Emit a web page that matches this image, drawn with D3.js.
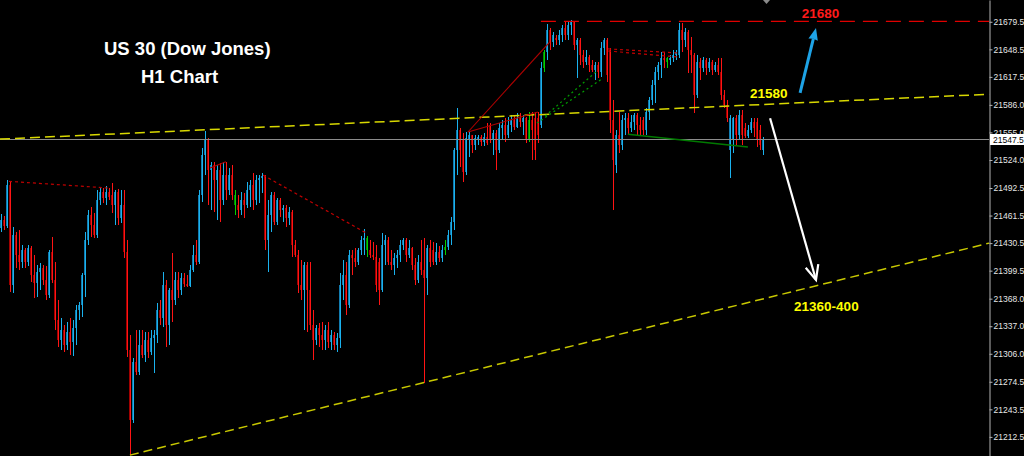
<!DOCTYPE html>
<html>
<head>
<meta charset="utf-8">
<script src="https://cdn.jsdelivr.net/npm/d3@7"></script>
<style>
  html, body { margin: 0; padding: 0; background: #000; }
  svg { display: block; }
</style>
</head>
<body>
<svg id="chart" width="1024" height="456"></svg>
<script>
// H1 candles, one per hour, oldest first
const opens = [
  21448, 21457, 21450, 21496, 21383, 21440, 21417, 21409, 21423, 21409,
  21425, 21395, 21386, 21398, 21402, 21389, 21372, 21421, 21389, 21344,
  21322, 21333, 21316, 21331, 21319, 21335, 21355, 21361, 21395, 21434,
  21462, 21451, 21440, 21479, 21488, 21481, 21488, 21485, 21473, 21488,
  21459, 21473, 21421, 21310, 21232, 21297, 21286, 21316, 21305, 21322,
  21308, 21324, 21327, 21355, 21346, 21383, 21338, 21378, 21367, 21389,
  21378, 21391, 21385, 21382, 21400, 21417, 21409, 21485, 21530, 21547,
  21513, 21518, 21502, 21513, 21479, 21507, 21490, 21507, 21485, 21473,
  21468, 21479, 21473, 21490, 21496, 21479, 21502, 21504, 21506, 21434,
  21462, 21485, 21454, 21479, 21468, 21470, 21459, 21466, 21428, 21417,
  21383, 21378, 21406, 21378, 21338, 21322, 21335, 21327, 21322, 21333,
  21319, 21327, 21316, 21324, 21383, 21395, 21361, 21417, 21414, 21409,
  21423, 21434, 21436, 21423, 21417, 21415, 21409, 21378, 21428, 21434,
  21409, 21406, 21414, 21417, 21428, 21434, 21417, 21425, 21406, 21389,
  21409, 21400, 21391, 21425, 21423, 21409, 21421, 21414, 21423, 21426,
  21440, 21454, 21535, 21558, 21547, 21511, 21547, 21552, 21541, 21547,
  21550, 21544, 21550, 21563, 21547, 21554, 21535, 21560, 21563, 21552,
  21563, 21569, 21561, 21571, 21567, 21571, 21547, 21569, 21571, 21571,
  21563, 21628, 21646, 21670, 21657, 21661, 21659, 21665, 21672, 21665,
  21676, 21679, 21653, 21659, 21642, 21634, 21640, 21631, 21625, 21631,
  21623, 21650, 21659, 21648, 21569, 21518, 21552, 21541, 21569, 21571,
  21560, 21567, 21575, 21563, 21569, 21558, 21578, 21591, 21608, 21623,
  21631, 21639, 21634, 21636, 21639, 21642, 21642, 21670, 21659, 21668,
  21648, 21642, 21597, 21634, 21628, 21636, 21628, 21634, 21625, 21631,
  21623, 21597, 21586, 21535, 21547, 21571, 21552, 21575, 21560, 21551,
  21558, 21567, 21567, 21558, 21535
]
const highs = [
  21463, 21461, 21502, 21500, 21449, 21443, 21445, 21428, 21425, 21428,
  21427, 21417, 21406, 21408, 21406, 21405, 21423, 21437, 21409, 21367,
  21346, 21338, 21342, 21346, 21344, 21361, 21364, 21397, 21443, 21468,
  21471, 21464, 21490, 21492, 21492, 21495, 21492, 21498, 21490, 21491,
  21490, 21490, 21434, 21327, 21301, 21333, 21333, 21333, 21331, 21331,
  21333, 21333, 21363, 21367, 21398, 21389, 21380, 21419, 21398, 21398,
  21397, 21397, 21395, 21406, 21428, 21434, 21490, 21538, 21557, 21549,
  21522, 21522, 21518, 21521, 21522, 21522, 21515, 21518, 21490, 21485,
  21488, 21487, 21499, 21502, 21509, 21507, 21507, 21509, 21507, 21479,
  21488, 21488, 21481, 21481, 21473, 21473, 21471, 21468, 21434, 21423,
  21411, 21409, 21409, 21409, 21355, 21338, 21341, 21342, 21338, 21342,
  21333, 21331, 21329, 21397, 21411, 21409, 21423, 21423, 21425, 21425,
  21438, 21446, 21438, 21434, 21432, 21428, 21414, 21442, 21440, 21437,
  21423, 21419, 21423, 21434, 21436, 21436, 21434, 21426, 21414, 21417,
  21434, 21436, 21428, 21434, 21432, 21431, 21427, 21428, 21434, 21445,
  21460, 21538, 21582, 21560, 21554, 21556, 21556, 21552, 21552, 21552,
  21552, 21554, 21566, 21566, 21558, 21558, 21566, 21569, 21571, 21572,
  21575, 21575, 21577, 21577, 21575, 21572, 21578, 21578, 21578, 21578,
  21634, 21648, 21677, 21672, 21668, 21665, 21670, 21676, 21679, 21679,
  21681, 21680, 21661, 21661, 21648, 21648, 21642, 21636, 21634, 21634,
  21657, 21661, 21661, 21650, 21591, 21558, 21578, 21575, 21577, 21577,
  21575, 21577, 21577, 21572, 21572, 21582, 21595, 21614, 21629, 21634,
  21646, 21646, 21640, 21642, 21648, 21648, 21678, 21678, 21672, 21670,
  21662, 21644, 21642, 21639, 21640, 21639, 21639, 21636, 21634, 21639,
  21639, 21603, 21591, 21575, 21572, 21575, 21580, 21580, 21566, 21563,
  21571, 21571, 21571, 21563, 21550
]
const lows = [
  21443, 21445, 21448, 21376, 21374, 21402, 21400, 21402, 21402, 21405,
  21387, 21369, 21370, 21378, 21383, 21367, 21369, 21386, 21333, 21314,
  21310, 21308, 21310, 21305, 21304, 21316, 21344, 21347, 21370, 21428,
  21437, 21436, 21436, 21473, 21476, 21473, 21479, 21464, 21451, 21451,
  21453, 21414, 21302, 21192, 21228, 21282, 21282, 21301, 21297, 21301,
  21305, 21284, 21318, 21338, 21336, 21314, 21316, 21342, 21361, 21369,
  21372, 21381, 21381, 21381, 21398, 21406, 21407, 21477, 21507, 21473,
  21468, 21466, 21457, 21454, 21473, 21479, 21485, 21479, 21462, 21459,
  21462, 21459, 21470, 21471, 21468, 21473, 21476, 21487, 21423, 21398,
  21443, 21451, 21451, 21460, 21454, 21449, 21451, 21415, 21415, 21374,
  21367, 21333, 21331, 21333, 21299, 21316, 21314, 21310, 21310, 21312,
  21310, 21310, 21308, 21312, 21367, 21350, 21357, 21395, 21404, 21406,
  21417, 21417, 21415, 21414, 21411, 21376, 21361, 21376, 21406, 21406,
  21400, 21395, 21402, 21409, 21423, 21409, 21414, 21400, 21383, 21386,
  21395, 21273, 21372, 21404, 21406, 21406, 21409, 21409, 21417, 21423,
  21428, 21445, 21507, 21516, 21499, 21507, 21527, 21532, 21535, 21541,
  21540, 21540, 21541, 21543, 21530, 21513, 21532, 21547, 21544, 21549,
  21555, 21558, 21560, 21561, 21552, 21543, 21544, 21524, 21524, 21543,
  21560, 21623, 21637, 21648, 21651, 21653, 21653, 21657, 21659, 21659,
  21665, 21648, 21616, 21631, 21628, 21631, 21623, 21623, 21614, 21616,
  21617, 21642, 21612, 21554, 21468, 21509, 21532, 21535, 21552, 21552,
  21555, 21558, 21552, 21552, 21552, 21552, 21569, 21586, 21588, 21614,
  21616, 21628, 21628, 21631, 21634, 21636, 21639, 21646, 21651, 21622,
  21622, 21577, 21594, 21614, 21623, 21620, 21623, 21620, 21623, 21620,
  21591, 21582, 21567, 21504, 21532, 21541, 21547, 21541, 21549, 21549,
  21554, 21550, 21539, 21535, 21530
]
const closes = [
  21457, 21450, 21496, 21383, 21440, 21417, 21409, 21423, 21409, 21425,
  21395, 21386, 21398, 21402, 21389, 21372, 21421, 21389, 21344, 21322,
  21333, 21316, 21331, 21319, 21335, 21355, 21361, 21395, 21434, 21462,
  21451, 21440, 21479, 21488, 21481, 21488, 21482, 21473, 21488, 21459,
  21473, 21421, 21310, 21232, 21297, 21286, 21316, 21305, 21322, 21308,
  21324, 21327, 21355, 21346, 21383, 21338, 21378, 21367, 21389, 21378,
  21391, 21385, 21382, 21400, 21417, 21409, 21485, 21530, 21547, 21513,
  21518, 21502, 21513, 21479, 21507, 21490, 21507, 21485, 21473, 21468,
  21479, 21473, 21490, 21496, 21479, 21502, 21504, 21506, 21434, 21462,
  21485, 21454, 21479, 21468, 21470, 21459, 21466, 21428, 21417, 21383,
  21378, 21406, 21378, 21338, 21322, 21335, 21327, 21322, 21333, 21319,
  21327, 21316, 21324, 21383, 21395, 21361, 21417, 21414, 21409, 21423,
  21434, 21436, 21423, 21417, 21415, 21383, 21378, 21428, 21434, 21409,
  21406, 21414, 21417, 21428, 21434, 21417, 21425, 21406, 21389, 21409,
  21400, 21391, 21425, 21409, 21409, 21421, 21414, 21423, 21426, 21440,
  21454, 21535, 21558, 21535, 21511, 21549, 21552, 21541, 21549, 21550,
  21544, 21550, 21543, 21547, 21554, 21535, 21560, 21563, 21552, 21563,
  21569, 21561, 21571, 21567, 21571, 21547, 21569, 21558, 21535, 21552,
  21628, 21646, 21670, 21657, 21665, 21659, 21665, 21672, 21665, 21676,
  21679, 21653, 21659, 21642, 21634, 21640, 21631, 21625, 21631, 21623,
  21650, 21659, 21620, 21569, 21524, 21552, 21541, 21569, 21571, 21560,
  21567, 21575, 21563, 21558, 21558, 21578, 21591, 21608, 21623, 21631,
  21639, 21636, 21639, 21639, 21642, 21646, 21670, 21659, 21668, 21648,
  21642, 21597, 21634, 21628, 21636, 21628, 21634, 21625, 21631, 21623,
  21597, 21586, 21571, 21571, 21571, 21552, 21575, 21552, 21551, 21558,
  21567, 21560, 21547, 21541, 21547.5
]
// bars painted green by the indicator
const greenBars = [78, 122, 148, 176, 181, 222]

const priceTicks = [21679.5, 21648.5, 21617.5, 21586.0, 21555.0, 21524.0, 21492.5, 21461.5,
  21430.5, 21399.5, 21368.0, 21337.0, 21306.0, 21274.5, 21243.5, 21212.5]
const lastPrice = 21547.5

// drawn objects, as [bar index, price]
const upperTrend = [[-0.5, 21547.5], [329.2, 21598]]
const lowerTrend = [[42.8, 21192], [329.2, 21430.5]]
const resistance = [[179.8, 21680], [329.2, 21680]]
const redDotted = [
  [[2.5, 21500], [35.5, 21492.5]],
  [[87.2, 21507], [121.5, 21442]],
  [[202.2, 21649], [225.5, 21644.4]],
  [[202.2, 21646.6], [225.5, 21640]],
]
const redSolid = [
  [[69.5, 21515], [74.8, 21522]],
  [[155.5, 21555.5], [182.8, 21657]],
  [[155.5, 21555.5], [178.8, 21578]],
]
const greenDotted = [
  [[178.5, 21565.5], [200.5, 21616]],
  [[181.2, 21573.5], [198.8, 21625]],
]
const greenSolid = [[208.8, 21553], [248.8, 21538.5]]
const blueArrow = [[266.2, 21599.4], [271.5, 21672.5]]
const whiteArrow = [[256.2, 21571], [271.5, 21389]]
const notes = [
  { text: '21680', at: [273, 21684], color: '#ff1a1a', anchor: 'middle' },
  { text: '21580', at: [249.5, 21594], color: '#ffff00', anchor: 'start' },
  { text: '21360-400', at: [264.2, 21354], color: '#ffff00', anchor: 'start' },
]

const W = 1024
const H = 456
const plotRight = 989

const x = d3.scaleLinear().domain([-0.5, 329.17]).range([0, plotRight])
const y = d3.scaleLinear().domain([21704, 21191]).range([0, H])

const svg = d3.select('#chart')
svg.append('rect').attr('width', W).attr('height', H).attr('fill', '#000')

const candles = opens.map((o, i) => ({ i, o, h: highs[i], l: lows[i], c: closes[i] }))

function colorsOf(d) {
  if (greenBars.includes(d.i)) return ['#00d200', '#008c00']
  return d.c > d.o ? ['#1ab2ee', '#137cb0'] : ['#ff1414', '#a00000']
}

const bars = svg.append('g').attr('shape-rendering', 'crispEdges')

bars.selectAll('rect.body')
  .data(candles)
  .join('rect')
  .attr('class', 'body')
  .attr('x', (d) => Math.floor(x(d.i)) - 1)
  .attr('width', 2)
  .attr('y', (d) => y(Math.max(d.o, d.c)))
  .attr('height', (d) => Math.max(1, y(Math.min(d.o, d.c)) - y(Math.max(d.o, d.c))))
  .attr('fill', (d) => colorsOf(d)[1])

bars.selectAll('rect.wick')
  .data(candles)
  .join('rect')
  .attr('class', 'wick')
  .attr('x', (d) => Math.floor(x(d.i)))
  .attr('width', 1)
  .attr('y', (d) => y(d.h))
  .attr('height', (d) => Math.max(1, y(d.l) - y(d.h)))
  .attr('fill', (d) => colorsOf(d)[0])

// bid line
svg.append('line')
  .attr('x1', 0).attr('x2', plotRight)
  .attr('y1', Math.round(y(lastPrice)) + 0.5).attr('y2', Math.round(y(lastPrice)) + 0.5)
  .attr('stroke', '#8c8c8c').attr('stroke-width', 1)

function seg(pts, stroke, width, dash) {
  const l = svg.append('line')
    .attr('x1', x(pts[0][0])).attr('y1', y(pts[0][1]))
    .attr('x2', x(pts[1][0])).attr('y2', y(pts[1][1]))
    .attr('stroke', stroke).attr('stroke-width', width)
  if (dash) l.attr('stroke-dasharray', dash)
  return l
}

seg(upperTrend, '#d8d800', 1.5, '10,5')
seg(lowerTrend, '#c8c800', 1.5, '9,5')
seg(resistance, '#e00000', 1.2, '15,8')
redDotted.forEach((p) => seg(p, '#c00000', 1.2, '3,3'))
redSolid.forEach((p) => seg(p, '#b00000', 1.1))
greenDotted.forEach((p) => seg(p, '#00a000', 1.2, '2,3'))
seg(greenSolid, '#007a00', 1.5)

// arrows
function arrow(pts, color, width, filled) {
  const x1 = x(pts[0][0]), y1 = y(pts[0][1])
  const x2 = x(pts[1][0]), y2 = y(pts[1][1])
  const a = Math.atan2(y2 - y1, x2 - x1)
  const len = filled ? 13 : 16
  const spread = filled ? 0.38 : 0.42
  const lx = x2 - len * Math.cos(a - spread), ly = y2 - len * Math.sin(a - spread)
  const rx = x2 - len * Math.cos(a + spread), ry = y2 - len * Math.sin(a + spread)
  if (filled) {
    const bx = x2 - (len - 2) * Math.cos(a), by = y2 - (len - 2) * Math.sin(a)
    svg.append('line').attr('x1', x1).attr('y1', y1).attr('x2', bx).attr('y2', by)
      .attr('stroke', color).attr('stroke-width', width)
    svg.append('path')
      .attr('d', `M${x2},${y2}L${lx},${ly}L${bx},${by}L${rx},${ry}Z`)
      .attr('fill', color)
  } else {
    svg.append('line').attr('x1', x1).attr('y1', y1).attr('x2', x2).attr('y2', y2)
      .attr('stroke', color).attr('stroke-width', width)
    svg.append('path')
      .attr('d', `M${lx},${ly}L${x2},${y2}L${rx},${ry}`)
      .attr('fill', 'none').attr('stroke', color).attr('stroke-width', width)
  }
}
arrow(blueArrow, '#1ea3e6', 3, true)
arrow(whiteArrow, '#ffffff', 2.2, false)

svg.selectAll('text.note')
  .data(notes)
  .join('text')
  .attr('class', 'note')
  .attr('x', (d) => x(d.at[0]))
  .attr('y', (d) => y(d.at[1]))
  .attr('text-anchor', (d) => d.anchor)
  .attr('font-family', '"Liberation Sans", Arial, sans-serif')
  .attr('font-weight', 'bold')
  .attr('font-size', 13.5)
  .attr('fill', (d) => d.color)
  .text((d) => d.text)

// title
const title = svg.append('g')
  .attr('font-family', '"Liberation Sans", Arial, sans-serif')
  .attr('font-weight', 'bold')
  .attr('font-size', 18.5)
  .attr('fill', '#ffffff')
title.append('text').attr('x', 104).attr('y', 55).text('US 30 (Dow Jones)')
title.append('text').attr('x', 141).attr('y', 83).text('H1 Chart')

// small marker at the top
svg.append('path').attr('d', 'M763,0L770,0L766.5,4Z').attr('fill', '#8a8a8a')

// price scale
const axis = svg.append('g')
  .attr('transform', `translate(${plotRight + 0.5},0)`)
  .call(d3.axisRight(y).tickValues(priceTicks).tickFormat(d3.format('.1f')).tickSize(3).tickSizeOuter(0).tickPadding(1))
axis.select('.domain').attr('stroke', '#b4b4b4')
axis.selectAll('.tick line').attr('stroke', '#b4b4b4')
axis.selectAll('.tick text')
  .attr('fill', '#e6e6e6')
  .attr('font-family', '"Liberation Sans", Arial, sans-serif')
  .attr('font-size', 8.5)

// last price tag sits over the 21555.0 label, as on the terminal
const ly = y(lastPrice)
svg.append('rect').attr('x', plotRight + 1).attr('y', Math.round(ly) - 5).attr('width', W - plotRight - 1).attr('height', 11).attr('fill', '#ffffff')
svg.append('text')
  .attr('x', plotRight + 4).attr('y', Math.round(ly) + 3.5)
  .attr('font-family', '"Liberation Sans", Arial, sans-serif')
  .attr('font-size', 8.5)
  .attr('fill', '#000')
  .text(d3.format('.1f')(lastPrice))
</script>
</body>
</html>
